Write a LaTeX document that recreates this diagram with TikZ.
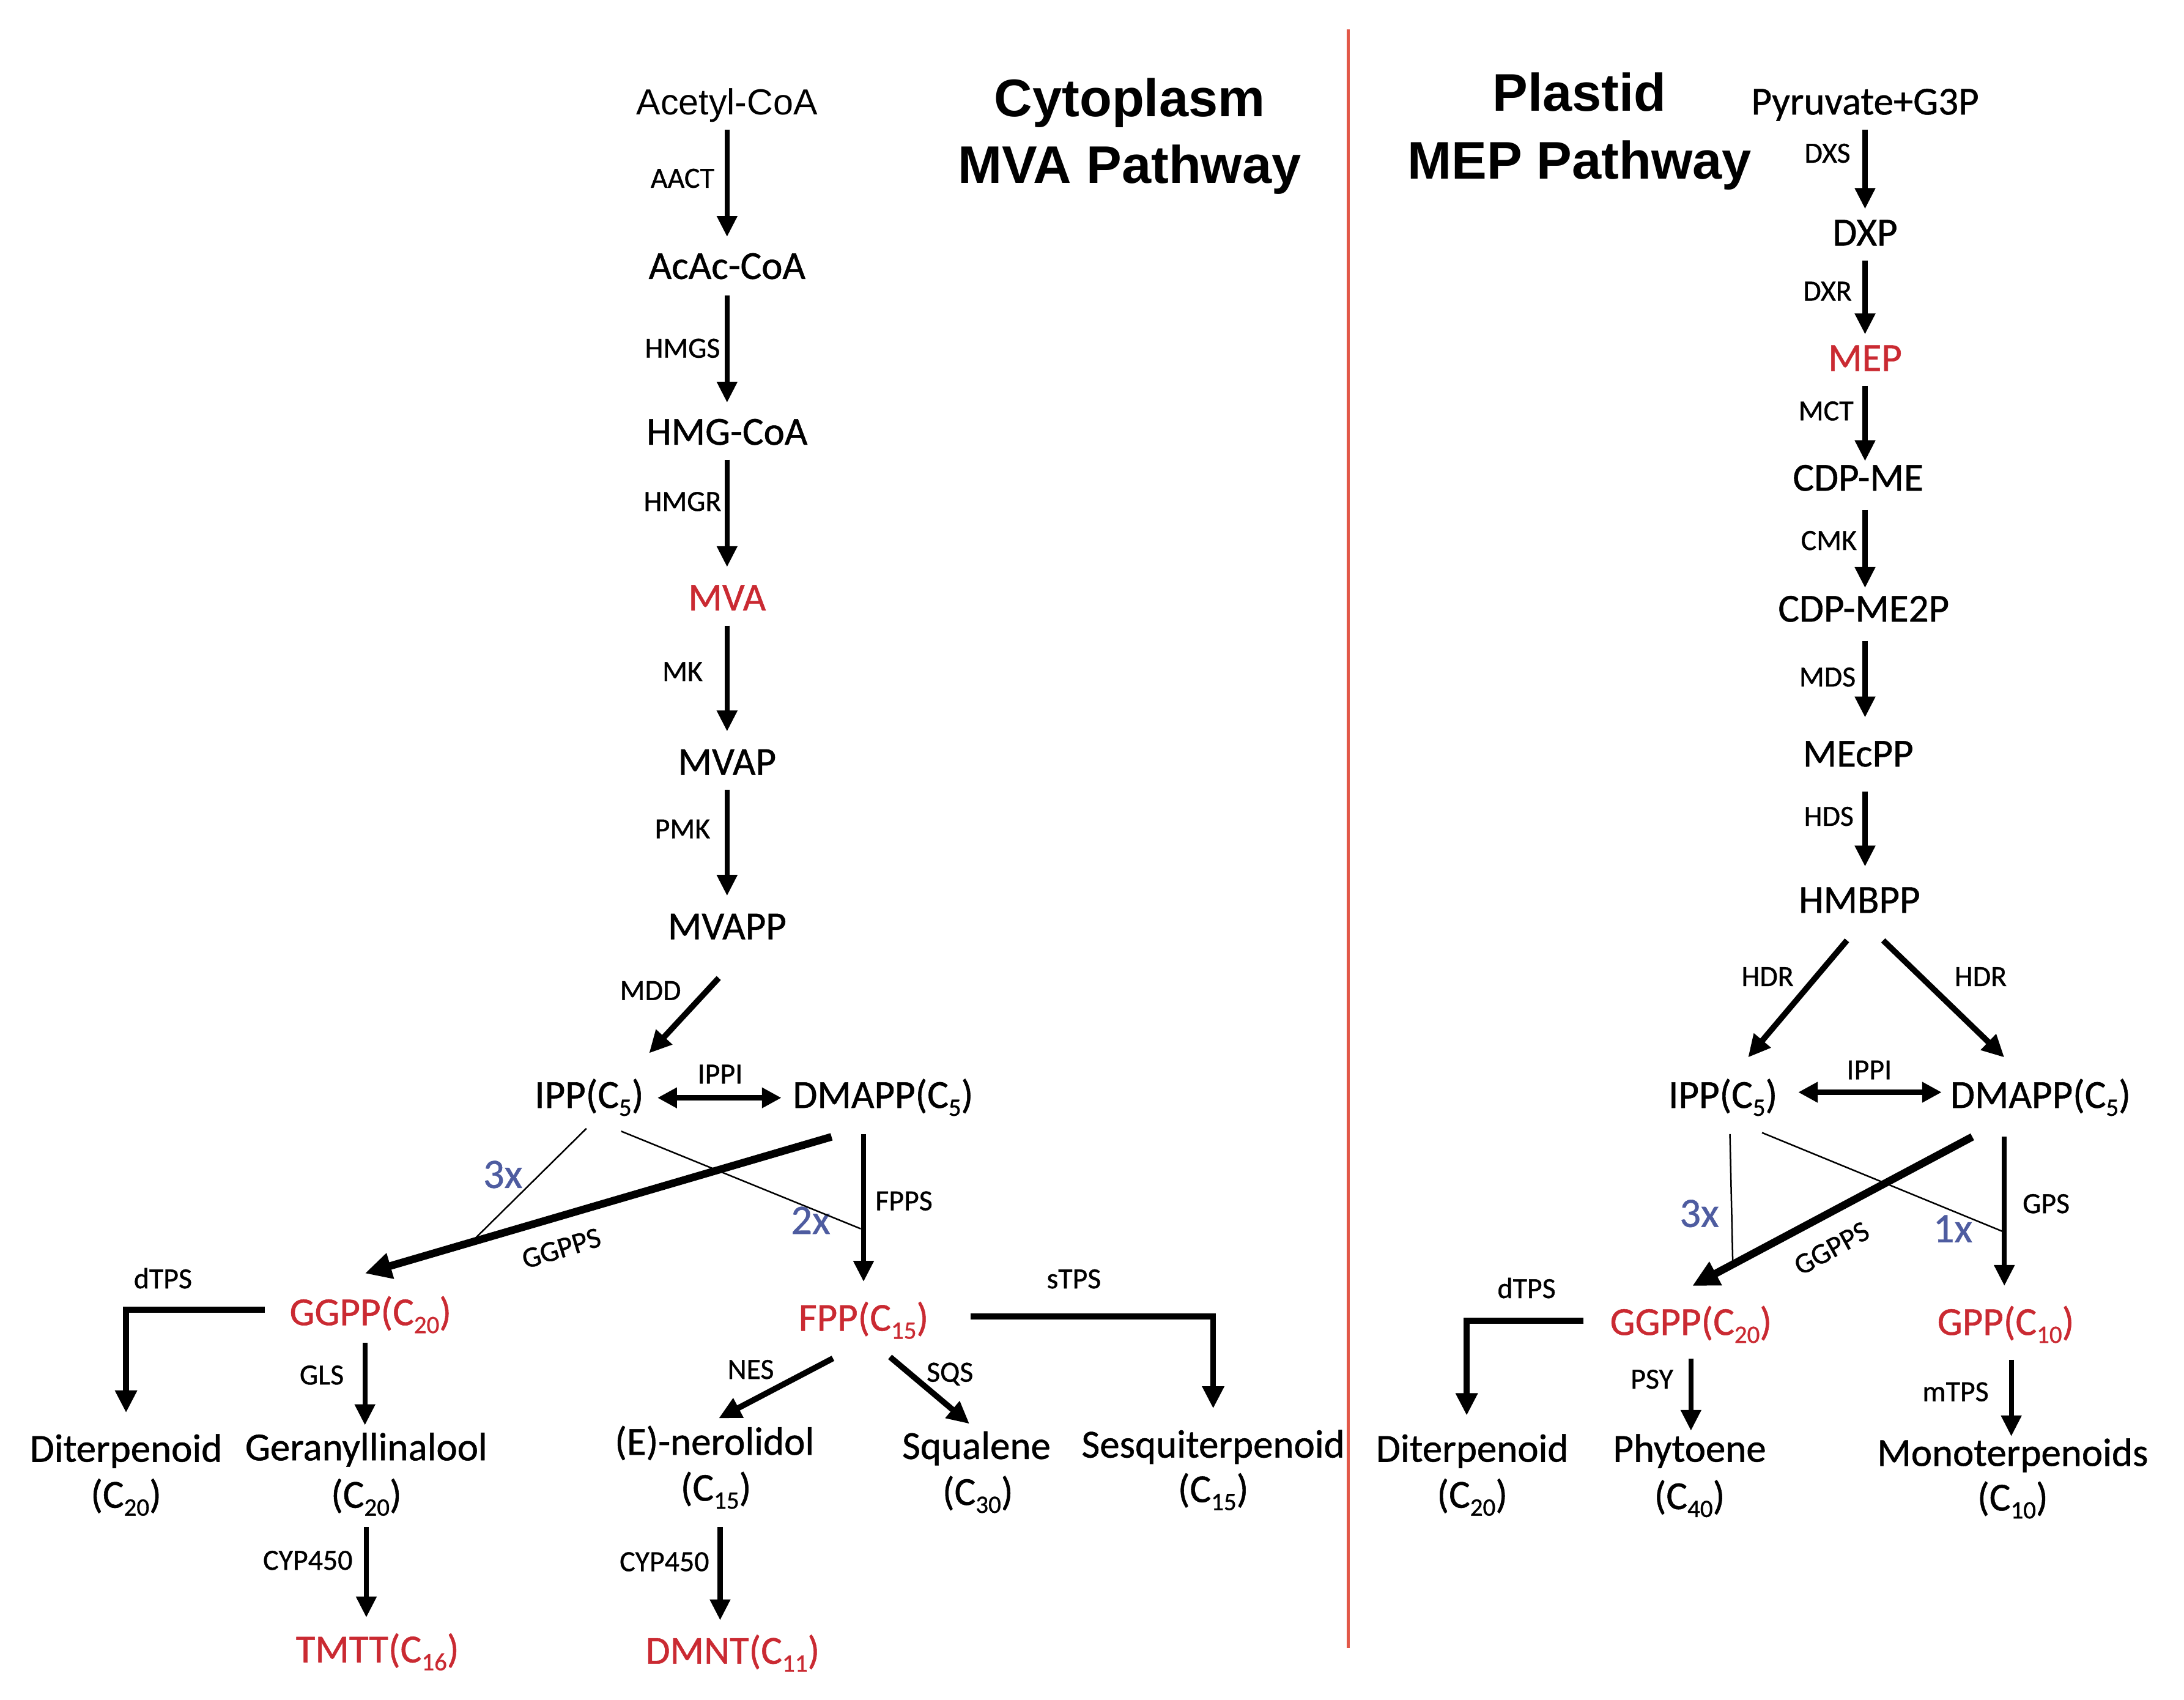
\documentclass[tikz,border=0pt]{standalone}
\usepackage{fontspec}
\setmainfont{Carlito}[FakeBold=0.8]
\newfontfamily\arialfont{Liberation Sans}
\usetikzlibrary{arrows.meta,calc}
\definecolor{redtxt}{RGB}{202,42,50}
\definecolor{bluetxt}{RGB}{78,92,160}
\definecolor{divred}{RGB}{226,88,72}
\newcommand\fmet{\fontsize{28.5}{33}\selectfont}
\newcommand\fenz{\fontsize{21}{24}\selectfont}
\newcommand\sbs[1]{\raisebox{-0.2em}{\fontsize{18}{18}\selectfont #1}}
\begin{document}
\begin{tikzpicture}[x=1pt,y=-1pt,
  met/.style={font=\fmet, inner sep=0pt, text height=18.4pt, text depth=0pt},
  redm/.style={met, text=redtxt},
  enz/.style={font=\fenz, inner sep=0pt, text height=13.5pt, text depth=0pt},
  ttl/.style={font=\arialfont\bfseries\fontsize{38}{40}\selectfont, inner sep=0pt, text height=27.2pt, text depth=0pt},
  arl/.style={font=\arialfont\fontsize{26}{30}\selectfont, inner sep=0pt, text height=18.6pt, text depth=0pt},
  num/.style={font=\fontsize{30}{30}\selectfont, text=bluetxt, inner sep=0pt, text height=19.3pt, text depth=0pt},
  arr/.style={line width=3.6pt, line join=miter, -{Triangle[length=15pt,width=14pt]}},
  arrb/.style={line width=4.2pt, line join=miter, -{Triangle[length=16pt,width=15pt]}},
  arrthick/.style={line width=5.5pt, -{Triangle[length=19pt,width=18pt]}},
  darr/.style={line width=4.2pt, {Triangle[length=14pt,width=14pt]}-{Triangle[length=14pt,width=14pt]}},
  thinl/.style={line width=1.1pt},
  divider/.style={line width=2.5pt, divred}]
\useasboundingbox (0,0) rectangle (1568,1220);

% titles
\node[ttl] (cyto) at (811,70) {Cytoplasm};
\node[ttl] (mvat) at (811,118) {MVA Pathway};
\node[ttl] (plas) at (1134,66) {Plastid};
\node[ttl] (mept) at (1134,115) {MEP Pathway};

% divider
\draw[divider] (968,21) -- (968,1183);

% ---------- MVA pathway ----------
\node[arl] (acetyl) at (522,73) {Acetyl-CoA};
\node[met] (acac) at (522,191) {AcAc-CoA};
\node[met] (hmgcoa) at (522,310) {HMG-CoA};
\node[redm] (mva) at (522,429) {MVA};
\node[met] (mvap) at (522,547) {MVAP};
\node[met] (mvapp) at (522,665) {MVAPP};
\node[met] (ipp) at (423,786) {IPP(C\sbs{5})};
\node[met] (dmapp) at (634,786) {DMAPP(C\sbs{5})};
\node[redm] (ggpp) at (266,942) {GGPP(C\sbs{20})};
\node[redm] (fpp) at (620,946) {FPP(C\sbs{15})};
\node[met] (diterp) at (90.5,1040) {Diterpenoid};
\node[met] (diterpc) at (90.5,1073) {(C\sbs{20})};
\node[met] (geran) at (263,1039) {Geranyllinalool};
\node[met] (geranc) at (263,1073) {(C\sbs{20})};
\node[redm] (tmtt) at (271,1184) {TMTT(C\sbs{16})};
\node[met] (nerol) at (513,1035) {(E)-nerolidol};
\node[met] (nerolc) at (514,1068) {(C\sbs{15})};
\node[met] (squal) at (701,1038) {Squalene};
\node[met] (squalc) at (702,1071) {(C\sbs{30})};
\node[met] (sesq) at (871,1037) {Sesquiterpenoid};
\node[met] (sesqc) at (871,1069) {(C\sbs{15})};
\node[redm] (dmnt) at (526,1185) {DMNT(C\sbs{11})};

\node[enz] (eaact) at (490,128) {AACT};
\node[enz] (ehmgs) at (490,250) {HMGS};
\node[enz] (ehmgr) at (490,360) {HMGR};
\node[enz] (emk) at (490,482) {MK};
\node[enz] (epmk) at (490,595) {PMK};
\node[enz] (emdd) at (467,711) {MDD};
\node[enz] (eippi) at (517,771) {IPPI};
\node[enz] (efpps) at (649,862) {FPPS};
\node[enz, rotate=17] (eggpps) at (403,896) {GGPPS};
\node[enz] (edtps) at (117,918) {dTPS};
\node[enz] (egls) at (231,987) {GLS};
\node[enz] (ecyp) at (221,1120) {CYP450};
\node[enz] (enes) at (539,983) {NES};
\node[enz] (esqs) at (682,985) {SQS};
\node[enz] (estps) at (771,918) {sTPS};
\node[enz] (ecypb) at (477,1121) {CYP450};
\node[num] (n3a) at (361,843) {3x};
\node[num] (n2a) at (582,876) {2x};

\draw[arr] ($(acetyl)+(0,20)$) -- ($(acac)+(0,-21)$);
\draw[arr] ($(acac)+(0,21)$) -- ($(hmgcoa)+(0,-21)$);
\draw[arr] ($(hmgcoa)+(0,20)$) -- ($(mva)+(0,-22)$);
\draw[arr] ($(mva)+(0,20)$) -- ($(mvap)+(0,-22)$);
\draw[arr] ($(mvap)+(0,20)$) -- ($(mvapp)+(0,-22)$);
\draw[arrb] ($(mvapp)+(-6,37)$) -- ($(ipp)+(43,-30)$);
\draw[darr] ($(ipp)+(49,2)$) -- ($(dmapp)+(-73,2)$);
\draw[thinl] ($(ipp)+(-2,24)$) -- ($(ggpp)+(72,-50)$);
\draw[thinl] ($(ipp)+(23,26)$) -- ($(fpp)+(-2,-64)$);
\draw[arrthick] ($(dmapp)+(-37,30)$) -- ($(ggpp)+(-4,-28)$);
\draw[arr] ($(dmapp)+(-14,28)$) -- ($(fpp)+(0,-26)$);
\draw[arrb] ($(ggpp)+(-76,-2)$) -| ($(diterp)+(0,-26)$);
\draw[arr] ($(ggpp)+(-4,22)$) -- ($(geran)+(-1,-16)$);
\draw[arr] ($(geranc)+(0,23)$) -- ($(tmtt)+(-8,-23)$);
\draw[arrb] ($(fpp)+(-22,29)$) -- ($(nerol)+(3,-17)$);
\draw[arrb] ($(fpp)+(19,28)$) -- ($(squal)+(-5,-16)$);
\draw[arrb] ($(fpp)+(77,-1)$) -| ($(sesq)+(0,-26)$);
\draw[arr] ($(nerolc)+(3,28)$) -- ($(dmnt)+(-9,-22)$);

% ---------- MEP pathway ----------
\node[met] (pyr) at (1339,73) {Pyruvate+G3P};
\node[met] (dxp) at (1339,167) {DXP};
\node[redm] (mep) at (1339,257) {MEP};
\node[met] (cdpme) at (1334,343) {CDP-ME};
\node[met] (cdpme2p) at (1338,437) {CDP-ME2P};
\node[met] (mecpp) at (1334,541) {MEcPP};
\node[met] (hmbpp) at (1335,646) {HMBPP};
\node[met] (ipp2) at (1237,786) {IPP(C\sbs{5})};
\node[met] (dmapp2) at (1465,786) {DMAPP(C\sbs{5})};
\node[redm] (ggpp2) at (1214,949) {GGPP(C\sbs{20})};
\node[redm] (gpp) at (1440,949) {GPP(C\sbs{10})};
\node[met] (diterp2) at (1057,1040) {Diterpenoid};
\node[met] (diterp2c) at (1057,1073) {(C\sbs{20})};
\node[met] (phyt) at (1213,1040) {Phytoene};
\node[met] (phytc) at (1213,1074) {(C\sbs{40})};
\node[met] (mono) at (1445,1043) {Monoterpenoids};
\node[met] (monoc) at (1445,1075) {(C\sbs{10})};

\node[enz] (edxs) at (1312,110) {DXS};
\node[enz] (edxr) at (1312,209) {DXR};
\node[enz] (emct) at (1311,295) {MCT};
\node[enz] (ecmk) at (1313,388) {CMK};
\node[enz] (emds) at (1312,486) {MDS};
\node[enz] (ehds) at (1313,586) {HDS};
\node[enz] (ehdra) at (1269,701) {HDR};
\node[enz] (ehdrb) at (1422,701) {HDR};
\node[enz] (eippib) at (1342,768) {IPPI};
\node[enz, rotate=29] (eggppsb) at (1315,896) {GGPPS};
\node[enz] (egps) at (1469,864) {GPS};
\node[enz] (edtpsb) at (1096,925) {dTPS};
\node[enz] (epsy) at (1186,990) {PSY};
\node[enz] (emtps) at (1404,999) {mTPS};
\node[num] (n3b) at (1220,871) {3x};
\node[num] (n1b) at (1402,882) {1x};

\draw[arr] ($(pyr)+(0,20)$) -- ($(dxp)+(0,-17)$);
\draw[arr] ($(dxp)+(0,20)$) -- ($(mep)+(0,-17)$);
\draw[arr] ($(mep)+(0,20)$) -- ($(cdpme)+(5,-12)$);
\draw[arr] ($(cdpme)+(5,23)$) -- ($(cdpme2p)+(1,-15)$);
\draw[arr] ($(cdpme2p)+(1,23)$) -- ($(mecpp)+(5,-26)$);
\draw[arr] ($(mecpp)+(5,27)$) -- ($(hmbpp)+(4,-24)$);
\draw[arrb] ($(hmbpp)+(-9,29)$) -- ($(ipp2)+(18,-27)$);
\draw[arrb] ($(hmbpp)+(17,29)$) -- ($(dmapp2)+(-26,-27)$);
\draw[darr] ($(ipp2)+(54,-2)$) -- ($(dmapp2)+(-71,-2)$);
\draw[thinl] ($(ipp2)+(5,28)$) -- ($(ggpp2)+(30,-44)$);
\draw[thinl] ($(ipp2)+(28,27)$) -- ($(gpp)+(-2,-65)$);
\draw[arrthick] ($(dmapp2)+(-49,30)$) -- ($(ggpp2)+(1,-26)$);
\draw[arr] ($(dmapp2)+(-26,30)$) -- ($(gpp)+(-1,-26)$);
\draw[arrb] ($(ggpp2)+(-77,-1)$) -| ($(diterp2)+(-4,-24)$);
\draw[arr] ($(ggpp2)+(0,26)$) -- ($(phyt)+(1,-13)$);
\draw[arr] ($(gpp)+(4,27)$) -- ($(mono)+(-1,-12)$);
\end{tikzpicture}
\end{document}
